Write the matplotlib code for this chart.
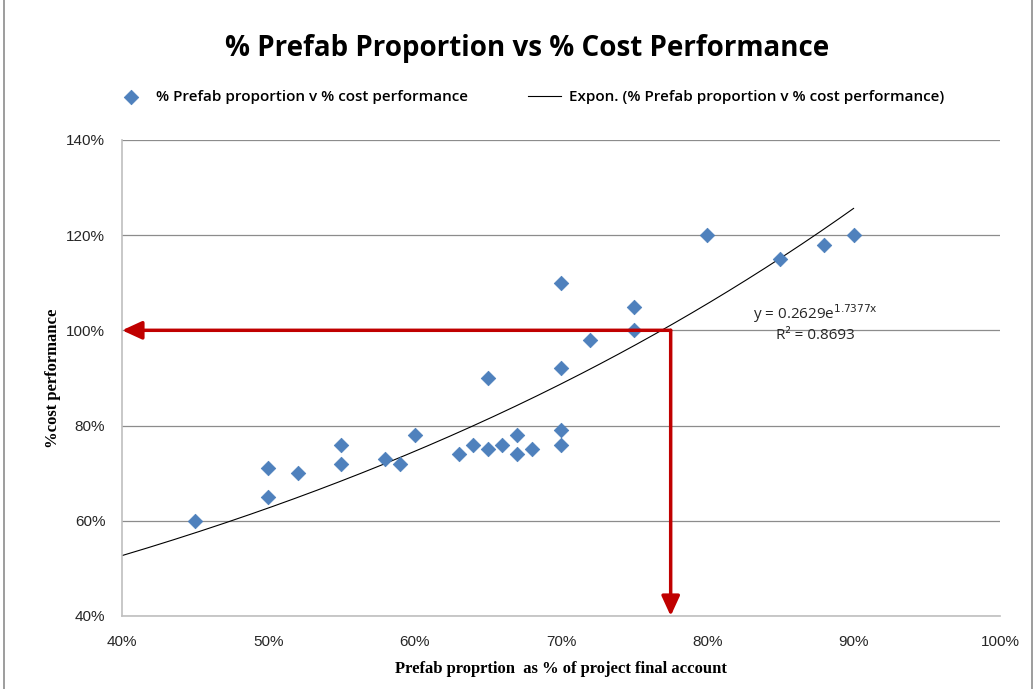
import matplotlib
matplotlib.use("Agg")
import matplotlib.pyplot as plt
import numpy as np
from matplotlib.ticker import FuncFormatter
from matplotlib.patches import Rectangle

# Data (fractions)
prefab = [0.45, 0.50, 0.50, 0.52, 0.55, 0.55, 0.58, 0.59, 0.60, 0.63, 0.64, 0.65, 0.65,
          0.66, 0.67, 0.67, 0.68, 0.70, 0.70, 0.70, 0.70, 0.72, 0.75, 0.75, 0.80, 0.85,
          0.88, 0.90]
cost = [0.60, 0.71, 0.65, 0.70, 0.76, 0.72, 0.73, 0.72, 0.78, 0.74, 0.76, 0.90, 0.75,
        0.76, 0.78, 0.74, 0.75, 1.10, 0.92, 0.79, 0.76, 0.98, 1.05, 1.00, 1.20, 1.15,
        1.18, 1.20]
trend_a = 0.2629
trend_b = 1.7377
trend_range = [0.40, 0.90]
target_cost = 1.00
target_prefab = 0.775

fig = plt.figure(figsize=(10.34, 6.89), dpi=100)
fig.patches.append(Rectangle((0.004, -0.01), 0.994, 1.02, transform=fig.transFigure,
                             fill=False, edgecolor="#8c8c8c", linewidth=1.2))
ax = fig.add_axes([0.118, 0.106, 0.849, 0.691])

xt = np.linspace(trend_range[0], trend_range[1], 200)
ax.plot(xt, trend_a * np.exp(trend_b * xt), color="black", linewidth=0.8, zorder=2,
        label="Expon. (% Prefab proportion v % cost performance)")
ax.scatter(prefab, cost, marker="D", s=55, color="#4f81bd", edgecolor="#4a7ebb",
           linewidth=0.5, zorder=3, label="% Prefab proportion v % cost performance")

ax.set_xlim(0.4, 1.0)
ax.set_ylim(0.4, 1.4)
ax.set_xticks(np.arange(0.4, 1.01, 0.1))
ax.set_yticks(np.arange(0.4, 1.41, 0.2))
pct = FuncFormatter(lambda v, p: f"{v*100:.0f}%")
ax.xaxis.set_major_formatter(pct)
ax.yaxis.set_major_formatter(pct)
ax.yaxis.grid(True, color="#8c8c8c", linewidth=0.9)
ax.set_axisbelow(True)
for s in ["top", "right"]:
    ax.spines[s].set_visible(False)
for s in ["left", "bottom"]:
    ax.spines[s].set_color("#bfbfbf")
    ax.spines[s].set_linewidth(1.2)
ax.tick_params(length=0, labelsize=11, colors="#262626", pad=12)
ax.tick_params(axis="x", pad=14)
for lab in ax.get_xticklabels() + ax.get_yticklabels():
    lab.set_family("Liberation Sans")

# red arrows
ax.annotate("", xy=(0.4, target_cost), xytext=(target_prefab, target_cost),
            arrowprops=dict(arrowstyle="-|>,head_length=1.2,head_width=0.55",
                            color="#c00000", lw=2.5, shrinkA=0, shrinkB=0), zorder=4)
ax.annotate("", xy=(target_prefab, 0.4), xytext=(target_prefab, target_cost),
            arrowprops=dict(arrowstyle="-|>,head_length=1.2,head_width=0.55",
                            color="#c00000", lw=2.5, shrinkA=0, shrinkB=0), zorder=4)

ax.text(0.874, 1.036, r"y = 0.2629e$^{\mathrm{1.7377x}}$", fontsize=11, family="Open Sans",
        color="#262626", ha="center", va="center")
ax.text(0.874, 0.99, "R² = 0.8693", fontsize=11, family="Open Sans",
        color="#262626", ha="center", va="center")

ax.set_xlabel("Prefab proprtion  as % of project final account", fontsize=12,
              family="Liberation Serif", fontweight="bold", labelpad=8)
ax.set_ylabel("%cost performance", fontsize=12, family="Liberation Serif",
              fontweight="bold", labelpad=4)

fig.text(0.51, 0.93, "% Prefab Proportion vs % Cost Performance", fontsize=20,
         fontweight="bold", family="Open Sans", ha="center", va="center")

h, l = ax.get_legend_handles_labels()
fig.legend([h[1], h[0]], [l[1], l[0]], loc="center left", bbox_to_anchor=(0.105, 0.859),
           ncol=2, frameon=False, prop={"family": "Open Sans", "size": 11, "weight": "semibold"},
           columnspacing=3.9, handlelength=2.2, handletextpad=0.5, borderaxespad=0)

fig.savefig("out.png", dpi=100)
